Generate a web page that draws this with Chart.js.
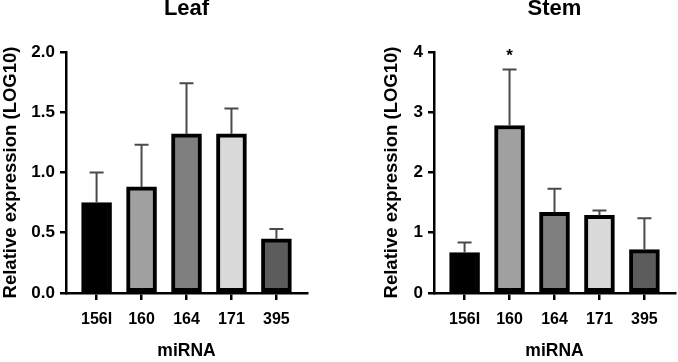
<!DOCTYPE html>
<html>
<head>
<meta charset="utf-8">
<script src="https://cdn.jsdelivr.net/npm/chart.js@4.4.1/dist/chart.umd.min.js"></script>
<style>
  html, body { margin: 0; padding: 0; background: #fff; }
  #wrap { position: relative; width: 678px; height: 362px; }
  canvas { position: absolute; top: 0; }
</style>
</head>
<body>
<div id="wrap">
  <canvas id="leaf" width="340" height="362" style="left:0"></canvas>
  <canvas id="stem" width="338" height="362" style="left:340px"></canvas>
</div>
<script>
// ---- data ----
const categories = ['156I', '160', '164', '171', '395'];
const barColors = ['#000000', '#a0a0a0', '#7f7f7f', '#d9d9d9', '#5c5c5c'];

const leafValues = [0.75, 0.88, 1.32, 1.32, 0.45];
const leafErrors = [0.25, 0.35, 0.42, 0.21, 0.08];
const leafSig    = ['', '', '', '', ''];
const leafTicks  = [0, 0.5, 1.0, 1.5, 2.0];

const stemValues = [0.67, 2.78, 1.34, 1.29, 0.72];
const stemErrors = [0.17, 0.93, 0.39, 0.08, 0.52];
const stemSig    = ['', '*', '', '', ''];
const stemTicks  = [0, 1, 2, 3, 4];

const FONT = "'Liberation Sans', Arial, Helvetica, sans-serif";

// error bars + significance marks plugin (uses the chart's scales)
const errorBarPlugin = {
  id: 'errbars',
  afterDatasetsDraw(chart, args, opts) {
    const ctx = chart.ctx;
    const yScale = chart.scales.y;
    const meta = chart.getDatasetMeta(0);
    const vals = chart.data.datasets[0].data;
    ctx.save();
    meta.data.forEach((bar, i) => {
      const top = vals[i].y + opts.errors[i];
      const yTop = yScale.getPixelForValue(top);
      const x = bar.x;
      ctx.strokeStyle = opts.color;
      ctx.lineWidth = opts.lineWidth;
      ctx.beginPath();
      ctx.moveTo(x, bar.y);
      ctx.lineTo(x, yTop);
      ctx.moveTo(x - opts.capHalf, yTop);
      ctx.lineTo(x + opts.capHalf, yTop);
      ctx.stroke();
      const s = opts.sig[i];
      if (s) {
        ctx.fillStyle = '#000';
        ctx.font = 'bold 17px ' + FONT;
        ctx.textAlign = 'center';
        ctx.textBaseline = 'middle';
        ctx.fillText(s, x, yTop - 13);
      }
    });
    ctx.restore();
  }
};

function makeChart(id, title, values, errors, sig, yTicks, yDecimals, padLeft, padRight, yWidth) {
  const yMax = yTicks[yTicks.length - 1];
  const step = yTicks[1] - yTicks[0];
  return new Chart(document.getElementById(id), {
    type: 'bar',
    data: {
      datasets: [{
        data: categories.map((c, i) => ({ x: i, y: values[i] })),
        backgroundColor: barColors,
        borderColor: '#000',
        borderWidth: 4,
        borderSkipped: false,
        barThickness: 30
      }]
    },
    options: {
      responsive: false,
      animation: false,
      devicePixelRatio: 1,
      events: [],
      layout: { padding: { left: padLeft, right: padRight, top: 0, bottom: 0 } },
      plugins: {
        legend: { display: false },
        tooltip: { enabled: false },
        title: {
          display: true,
          text: title,
          fullSize: false,
          color: '#000',
          font: { family: FONT, size: 22, weight: 'bold', lineHeight: 0.77 },
          padding: { top: 0, bottom: 35 }
        },
        errbars: { errors: errors, sig: sig, color: '#4a4a4a', lineWidth: 2, capHalf: 7 }
      },
      scales: {
        x: {
          type: 'linear',
          offset: false,
          min: -0.68,
          max: categories.length - 1 + 0.68,
          afterBuildTicks: (s) => { s.ticks = categories.map((c, i) => ({ value: i })); },
          afterFit: (s) => { s.height = 69; },
          ticks: {
            callback: (v) => categories[v] !== undefined ? categories[v] : '',
            color: '#000',
            font: { family: FONT, size: 16, weight: 'bold' },
            padding: 10,
            autoSkip: false,
            maxRotation: 0
          },
          grid: { display: true, offset: false, drawOnChartArea: false, drawTicks: true, tickLength: 7, color: '#000', lineWidth: 2.5 },
          border: { display: true, color: '#000', width: 2.5 },
          title: {
            display: true,
            text: 'miRNA',
            color: '#000',
            font: { family: FONT, size: 17.5, weight: 'bold' },
            padding: { top: 0, bottom: 0 }
          }
        },
        y: {
          min: 0,
          max: yMax,
          afterBuildTicks: (s) => { s.ticks = yTicks.map(v => ({ value: v })); },
          afterFit: (s) => { s.width = yWidth; },
          ticks: {
            stepSize: step,
            callback: (v) => Number(v).toFixed(yDecimals),
            color: '#000',
            font: { family: FONT, size: 17, weight: 'bold' },
            padding: 5
          },
          grid: { display: true, drawOnChartArea: false, drawTicks: true, tickLength: 6, color: '#000', lineWidth: 2.5 },
          border: { display: true, color: '#000', width: 2.5 },
          title: {
            display: true,
            text: 'Relative expression (LOG10)',
            color: '#000',
            font: { family: FONT, size: 18.5, weight: 'bold' },
            padding: { top: 0, bottom: 0 }
          }
        }
      }
    },
    plugins: [errorBarPlugin]
  });
}

makeChart('leaf', 'Leaf', leafValues, leafErrors, leafSig, leafTicks, 1, 0, 33, 66);
makeChart('stem', 'Stem', stemValues, stemErrors, stemSig, stemTicks, 0, 41, 3, 53);
</script>
</body>
</html>
